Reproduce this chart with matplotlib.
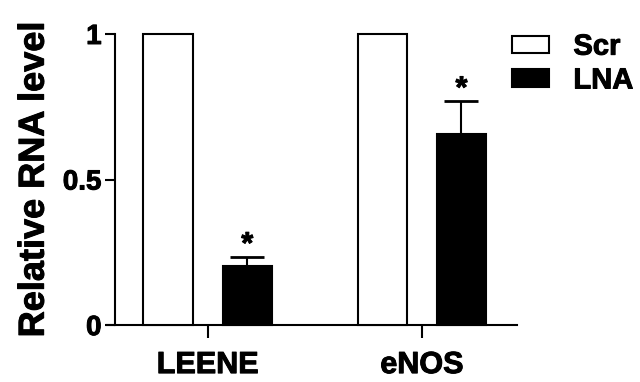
# Relative RNA level: Scr vs LNA
import matplotlib.pyplot as plt
import matplotlib.patheffects as pe
import numpy as np

plt.rcParams['font.family'] = ['Liberation Sans', 'DejaVu Sans']
plt.rcParams['font.weight'] = 'bold'

# данные
genes = ['LEENE', 'eNOS']
scr = [1.0, 1.0]
lna = [0.203, 0.655]
lna_err = [0.032, 0.115]
stars = ['*', '*']

x = np.arange(len(genes))
w = 0.23
off = 0.185

# немного утолщить текст
thick = [pe.withStroke(linewidth=0.7, foreground='black')]

fig = plt.figure(figsize=(6.4, 3.82), dpi=100)
ax = fig.add_axes([0.167, 0.149, 0.641, 0.762])

ax.bar(x - off, scr, w, color='white', edgecolor='black', linewidth=1.5,
       label='Scr', clip_on=False, zorder=3)
ax.bar(x + off, lna, w, color='black', edgecolor='black', linewidth=1.5,
       label='LNA', clip_on=False, zorder=3)
ax.errorbar(x + off, lna, yerr=[np.zeros(len(lna)), lna_err], fmt='none',
            ecolor='black', elinewidth=1.5, capsize=12, capthick=2, zorder=2)

for xi, v, e, s in zip(x, lna, lna_err, stars):
    ax.text(xi + off, v + e - 0.012, s, ha='center', va='bottom',
            fontsize=22, fontweight='bold', path_effects=thick)

ax.set_xlim(-0.47, 1.445)
ax.set_ylim(0, 1.0)
ax.set_yticks([0, 0.5, 1])
ax.set_yticklabels(['0', '0.5', '1'])
ax.set_xticks(x)
ax.set_xticklabels(genes)

ax.spines['top'].set_visible(False)
ax.spines['right'].set_visible(False)
ax.spines['left'].set_position(('data', -0.43))
ax.spines['left'].set_bounds(0, 1)
ax.spines['left'].set_linewidth(1.5)
ax.spines['bottom'].set_linewidth(1.5)

ax.tick_params(axis='y', labelsize=20, width=1.5, length=7, pad=3)
ax.tick_params(axis='x', labelsize=22, width=1.5, length=9, pad=9)
for t in ax.get_xticklabels() + ax.get_yticklabels():
    t.set_path_effects(thick)

ax.set_ylabel('Relative RNA level', fontsize=26, fontweight='bold', labelpad=8,
              path_effects=thick)

leg = ax.legend(loc='upper left', bbox_to_anchor=(0.782, 0.945),
                bbox_transform=fig.transFigure, frameon=False, fontsize=21,
                handlelength=1.25, handleheight=0.55, handletextpad=0.85,
                labelspacing=0.2, borderaxespad=0)
for t in leg.get_texts():
    t.set_path_effects(thick)

fig.savefig('out.png', dpi=100)
